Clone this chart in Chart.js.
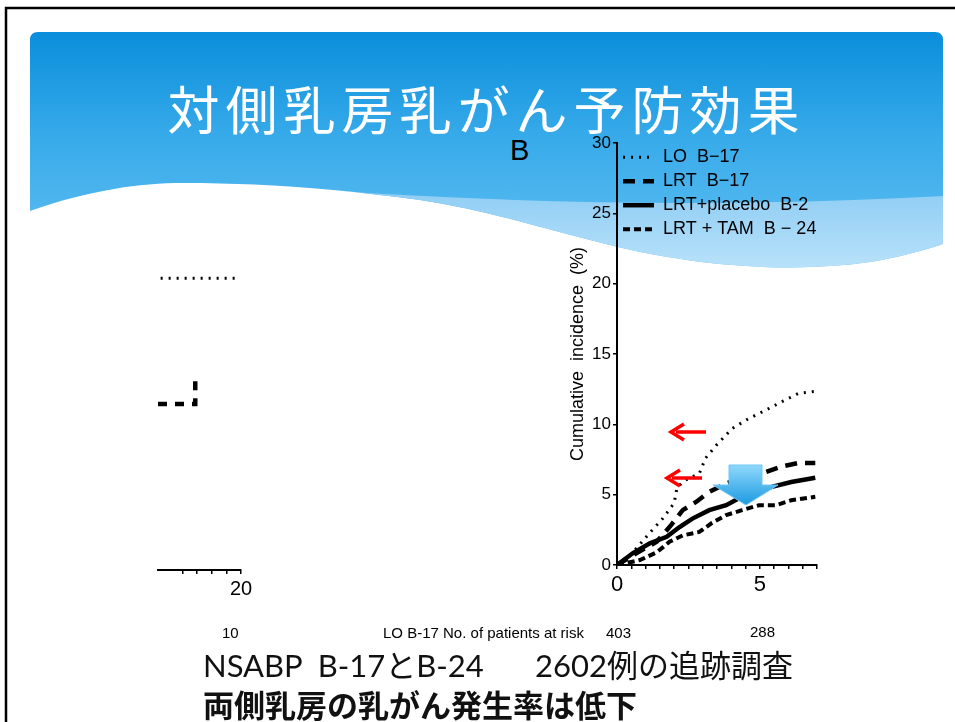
<!DOCTYPE html>
<html>
<head>
<meta charset="utf-8">
<script src="https://cdn.jsdelivr.net/npm/chart.js@4.4.1/dist/chart.umd.min.js"></script>
<style>
  body { margin: 0; width: 955px; height: 722px; overflow: hidden; background: #fff; position: relative; font-family: 'Liberation Sans', Arial, sans-serif; }
  .abs { position: absolute; white-space: pre; line-height: 1; }
  #bg, #marks { position: absolute; left: 0; top: 0; }
  #title { left: 0; width: 973px; top: 82px; text-align: center; color: #fff; font-family: 'Noto Sans CJK JP', sans-serif; font-size: 52px; letter-spacing: 6px; }
  #panelB { left: 510px; top: 136px; font-size: 29px; color: #000; }
  .risk { top: 625px; font-size: 15px; color: #000; }
  .jp1 { top: 650px; font-size: 31px; color: #111; font-family: Lato, 'Noto Sans CJK JP', sans-serif; }
  .jp2 { top: 688px; left: 203px; font-size: 31px; font-weight: bold; color: #111; font-family: 'Noto Sans CJK JP', sans-serif; }
  #boxB { position: absolute; left: 540px; top: 130px; }
  #boxA { position: absolute; left: 150px; top: 133px; }
</style>
</head>
<body>

<svg id="bg" width="955" height="722">
  <defs>
    <linearGradient id="hdr" x1="0" y1="32" x2="0" y2="270" gradientUnits="userSpaceOnUse">
      <stop offset="0" stop-color="#0a8edb"/>
      <stop offset="0.45" stop-color="#38abea"/>
      <stop offset="1" stop-color="#64c0f2"/>
    </linearGradient>
    <linearGradient id="band" x1="0" y1="190" x2="0" y2="270" gradientUnits="userSpaceOnUse">
      <stop offset="0" stop-color="#8fcdf4"/>
      <stop offset="1" stop-color="#b9e2fa"/>
    </linearGradient>
    <clipPath id="hdrClip">
      <path d="M30,40 Q30,32 38,32 L935,32 Q943,32 943,40 L943,244 C925,250 900,257 870,262 C800,272 720,268 640,252 C560,235 500,212 420,200 C330,188 260,183 183,183 C140,183 90,190 30,211 Z"/>
    </clipPath>
  </defs>
  <path d="M30,40 Q30,32 38,32 L935,32 Q943,32 943,40 L943,244 C925,250 900,257 870,262 C800,272 720,268 640,252 C560,235 500,212 420,200 C330,188 260,183 183,183 C140,183 90,190 30,211 Z" fill="url(#hdr)"/>
  <path d="M250,185 Q620,214 943,196 L943,300 L250,300 Z" fill="url(#band)" clip-path="url(#hdrClip)"/>
  <path d="M6,722 L6,8 L955,8" fill="none" stroke="#000" stroke-width="2.5"/>
</svg>

<div id="title" class="abs">対側乳房乳がん予防効果</div>
<div id="panelB" class="abs">B</div>

<div id="boxA"><canvas id="chartA" width="110" height="467"></canvas></div>
<div id="boxB"><canvas id="chartB" width="290" height="465"></canvas></div>

<svg id="marks" width="955" height="722">
  <defs>
    <linearGradient id="down" x1="0" y1="465" x2="0" y2="505" gradientUnits="userSpaceOnUse">
      <stop offset="0" stop-color="#8fd8fc"/>
      <stop offset="1" stop-color="#1c9ae1"/>
    </linearGradient>
  </defs>
  <path d="M706,432 L676,432" stroke="#f00" stroke-width="3.5"/>
  <path d="M684,424 L671,432 L684,440" fill="none" stroke="#f00" stroke-width="3.5"/>
  <path d="M702,478 L672,478" stroke="#f00" stroke-width="3.5"/>
  <path d="M680,470 L667,478 L680,486" fill="none" stroke="#f00" stroke-width="3.5"/>
  <polygon points="729,465 762,465 762,485 778,485 746,505 713,485 729,485" fill="url(#down)" stroke="#6cc8f7" stroke-width="1"/>
</svg>

<div class="abs risk" style="left:222px">10</div>
<div class="abs risk" style="left:383px">LO B-17 No. of patients at risk</div>
<div class="abs risk" style="left:606px">403</div>
<div class="abs risk" style="left:750px;top:624px">288</div>

<div class="abs jp1" style="left:203px">NSABP  B-17とB-24</div>
<div class="abs jp1" style="left:535px">2602例の追跡調査</div>
<div class="abs jp2">両側乳房の乳がん発生率は低下</div>

<script>
// series names (legend)
const seriesNames = ['LO  B\u221217', 'LRT  B\u221217', 'LRT+placebo  B-2', 'LRT + TAM  B \u2212 24'];

// panel B - cumulative incidence (%) vs years
const loB17X = [0, 0.56, 1.15, 1.6, 2.0, 2.1, 2.36, 2.88, 3.1, 3.47, 4.03, 4.6, 5.2, 5.76, 6.35, 6.94];
const loB17Y = [0, 0.9, 2.3, 3.3, 4.4, 5.5, 6.0, 6.5, 7.6, 8.5, 9.7, 10.4, 11.0, 11.6, 12.2, 12.35];

const lrtB17X = [0, 0.69, 1.39, 1.9, 2.3, 2.78, 3.23, 3.82, 4.5, 5.2, 5.76, 6.35, 6.94];
const lrtB17Y = [0, 0.85, 1.65, 2.85, 3.9, 4.5, 5.2, 5.8, 6.3, 6.6, 7.0, 7.25, 7.25];

const placeboX = [0, 0.56, 1.15, 1.74, 2.19, 2.64, 3.23, 3.82, 4.27, 4.86, 5.42, 6.1, 6.94];
const placeboY = [0, 0.85, 1.55, 2.0, 2.7, 3.3, 3.9, 4.25, 4.75, 5.2, 5.55, 5.9, 6.2];

const tamX = [0, 0.8, 1.39, 1.84, 2.3, 2.88, 3.33, 3.82, 4.38, 4.97, 5.56, 6.1, 6.94];
const tamY = [0, 0.35, 0.9, 1.65, 2.1, 2.35, 3.0, 3.55, 3.9, 4.25, 4.25, 4.6, 4.85];

const xLabelsB = [0, 5];

// left panel fragment (mostly hidden)
const fragLoX = [17.26, 19.83];
const fragLoY = [20.5, 20.5];
const fragLrtX = [17.17, 18.44, 18.44];
const fragLrtY = [11.66, 11.66, 13.5];
const xLabelsA = [20];

const FONT = "'Liberation Sans', Arial, sans-serif";
Chart.defaults.font.family = FONT;
Chart.defaults.color = '#000';

function pts(xs, ys) {
    return xs.map((x, i) => ({x: x, y: ys[i]}));
}

const axisGrid = { drawOnChartArea: false, drawTicks: true, tickLength: 4, color: '#000', lineWidth: 1.5 };
const axisBorder = { display: true, color: '#000', width: 2 };

// legend samples should use the dataset's own line width / dash
function lineLabels(chart) {
    const items = Chart.defaults.plugins.legend.labels.generateLabels(chart);
    items.forEach(it => {
        const ds = chart.data.datasets[it.datasetIndex];
        it.lineDash = ds.borderDash || [];
        it.lineWidth = ds.borderWidth;
        it.strokeStyle = ds.borderColor;
    });
    return items;
}

// PANEL B
new Chart(document.getElementById('chartB').getContext('2d'), {
    type: 'line',
    data: {
        datasets: [
            { label: seriesNames[0], data: pts(loB17X, loB17Y), borderColor: '#000', backgroundColor: '#000', borderWidth: 3, borderDash: [2, 6] },
            { label: seriesNames[1], data: pts(lrtB17X, lrtB17Y), borderColor: '#000', backgroundColor: '#000', borderWidth: 4.5, borderDash: [12, 8] },
            { label: seriesNames[2], data: pts(placeboX, placeboY), borderColor: '#000', backgroundColor: '#000', borderWidth: 4.5 },
            { label: seriesNames[3], data: pts(tamX, tamY), borderColor: '#000', backgroundColor: '#000', borderWidth: 4, borderDash: [7, 4] }
        ]
    },
    options: {
        responsive: false,
        animation: false,
        elements: { point: { radius: 0 }, line: { tension: 0 } },
        layout: { padding: { left: 0, right: 13, top: 13, bottom: 0 } },
        plugins: {
            tooltip: { enabled: false },
            legend: {
                position: 'chartArea',
                align: 'start',
                title: { display: true, text: ' ', font: { size: 1 }, padding: { top: 11, bottom: 0 } },
                labels: {
                    usePointStyle: true,
                    pointStyle: 'line',
                    pointStyleWidth: 31,
                    padding: 6,
                    color: '#000',
                    font: { size: 18 },
                    generateLabels: lineLabels
                }
            }
        },
        scales: {
            x: {
                type: 'linear', min: 0, max: 7,
                afterFit: (s) => { s.height = 30; },
                ticks: {
                    stepSize: 0.5, autoSkip: false, maxRotation: 0, padding: 3,
                    font: { size: 22 },
                    callback: (v) => xLabelsB.includes(v) ? String(v) : ''
                },
                grid: axisGrid,
                border: axisBorder
            },
            y: {
                min: 0, max: 30,
                afterFit: (s) => { s.width = 77; },
                ticks: { stepSize: 5, padding: 2, font: { size: 17 } },
                grid: axisGrid,
                border: axisBorder,
                title: {
                    display: true,
                    text: 'Cumulative  incidence  (%)',
                    font: { size: 18 },
                    color: '#000',
                    padding: { top: 27, bottom: 0 }
                }
            }
        }
    }
});

// PANEL A (fragment)
new Chart(document.getElementById('chartA').getContext('2d'), {
    type: 'line',
    data: {
        datasets: [
            { data: pts(fragLoX, fragLoY), borderColor: '#000', borderWidth: 3, borderDash: [2, 6] },
            { data: pts(fragLrtX, fragLrtY), borderColor: '#000', borderWidth: 4.5, borderDash: [9, 8] }
        ]
    },
    options: {
        responsive: false,
        animation: false,
        elements: { point: { radius: 0 }, line: { tension: 0 } },
        layout: { padding: { left: 8, right: 19, top: 10, bottom: 0 } },
        plugins: { legend: { display: false }, tooltip: { enabled: false } },
        scales: {
            x: {
                type: 'linear', min: 17.17, max: 20,
                afterFit: (s) => { s.height = 30; },
                afterBuildTicks: (s) => {
                    s.ticks = s.ticks.filter(t => Math.abs(t.value * 2 - Math.round(t.value * 2)) < 1e-6);
                },
                ticks: {
                    stepSize: 0.5, autoSkip: false, maxRotation: 0, padding: 3,
                    font: { size: 20 },
                    callback: (v) => xLabelsA.includes(v) ? String(v) : ''
                },
                grid: axisGrid,
                border: axisBorder
            },
            y: { display: false, min: 0, max: 30 }
        }
    }
});
</script>
</body>
</html>
